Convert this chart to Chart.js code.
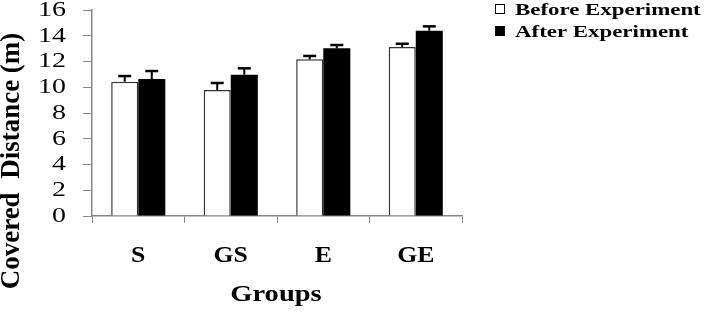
<!DOCTYPE html>
<html><head><meta charset="utf-8">
<script src="https://cdn.jsdelivr.net/npm/chart.js@4"></script>
<style>html,body{margin:0;padding:0;background:#fff}</style>
</head><body>
<canvas id="c" width="705" height="316"></canvas>
<script>
const categories = ['S', 'GS', 'E', 'GE'];
const beforeValues = [10.43, 9.79, 12.17, 13.13];
const afterValues = [10.64, 10.98, 13.02, 14.39];
const beforeErrors = [0.44, 0.54, 0.26, 0.25];
const afterErrors = [0.62, 0.49, 0.26, 0.34];
const seriesLabels = ['Before Experiment', 'After Experiment'];
const yTicks = { min: 0, max: 16, step: 2 };
const xTitle = 'Groups';
const yTitle = 'Covered  Distance (m)';

const SERIF = '"Liberation Serif", serif';
const errorSets = [beforeErrors, afterErrors];

function stretchText(ctx, text, x, y, sx, align, baseline) {
  ctx.save();
  ctx.translate(x, y);
  ctx.scale(sx, 1);
  ctx.textAlign = align; ctx.textBaseline = baseline;
  ctx.fillText(text, 0, 0);
  ctx.restore();
}

const extras = {
  id: 'extras',
  afterDatasetsDraw(chart) {
    const ctx = chart.ctx, ys = chart.scales.y;
    ctx.save();
    ctx.strokeStyle = '#000';
    chart.data.datasets.forEach((ds, i) => {
      const meta = chart.getDatasetMeta(i);
      meta.data.forEach((el, j) => {
        const top = ys.getPixelForValue(ds.data[j] + errorSets[i][j]);
        ctx.lineWidth = 2;
        ctx.beginPath(); ctx.moveTo(el.x, el.y); ctx.lineTo(el.x, top); ctx.stroke();
        ctx.lineWidth = 2.5;
        ctx.beginPath(); ctx.moveTo(el.x - 6.5, top); ctx.lineTo(el.x + 6.5, top); ctx.stroke();
      });
    });
    ctx.restore();
  },
  afterDraw(chart) {
    const ctx = chart.ctx, a = chart.chartArea, xs = chart.scales.x, ys = chart.scales.y;
    ctx.save();
    ctx.fillStyle = '#000';
    // y tick labels
    ctx.font = '22px ' + SERIF;
    ys.ticks.forEach((t, i) => {
      stretchText(ctx, String(t.value), 66, ys.getPixelForTick(i), 1.27, 'right', 'middle');
    });
    // x tick labels
    ctx.font = 'bold 23px ' + SERIF;
    chart.data.labels.forEach((lab, i) => {
      stretchText(ctx, lab, xs.getPixelForTick(i), 262, 1.12, 'center', 'alphabetic');
    });
    // x title
    ctx.font = 'bold 23px ' + SERIF;
    stretchText(ctx, xTitle, (a.left + a.right) / 2 - 1, 301, 1.24, 'center', 'alphabetic');
    // legend
    ctx.font = 'bold 16px ' + SERIF;
    const ly = [15, 37];
    chart.data.datasets.forEach((ds, i) => {
      ctx.fillStyle = '#000';
      stretchText(ctx, ds.label, 515, ly[i], 1.43, 'left', 'alphabetic');
      const by = ly[i] - 11;
      if (i === 0) {
        ctx.fillStyle = '#fff'; ctx.fillRect(495, by, 10, 10);
        ctx.strokeStyle = '#000'; ctx.lineWidth = 1; ctx.strokeRect(495.5, by + 0.5, 9, 9);
      } else {
        ctx.fillStyle = '#000'; ctx.fillRect(495, by, 10, 10);
      }
    });
    // y title
    ctx.fillStyle = '#000';
    ctx.font = 'bold 27px ' + SERIF;
    ctx.translate(12, 161);
    ctx.rotate(-Math.PI / 2);
    ctx.textAlign = 'center'; ctx.textBaseline = 'middle';
    ctx.fillText(yTitle, 0, 0);
    ctx.restore();
  }
};

new Chart(document.getElementById('c'), {
  type: 'bar',
  data: {
    labels: categories,
    datasets: [
      { label: seriesLabels[0], data: beforeValues, backgroundColor: '#fff', borderColor: '#333', borderWidth: 1.5 },
      { label: seriesLabels[1], data: afterValues, backgroundColor: '#000', borderWidth: 0 }
    ]
  },
  options: {
    responsive: false, animation: false, events: [],
    layout: { padding: { left: 0, right: 243, top: 10, bottom: 0 } },
    plugins: { legend: { display: false }, tooltip: { enabled: false }, title: { display: false } },
    datasets: { bar: { categoryPercentage: 0.585, barPercentage: 1 } },
    scales: {
      x: {
        grid: { display: true, drawOnChartArea: false, tickLength: 7, color: '#888', offset: true },
        border: { color: '#888', width: 1.5 },
        ticks: { display: false },
        afterFit(s) { s.height = 100; }
      },
      y: {
        min: yTicks.min, max: yTicks.max,
        ticks: { stepSize: yTicks.step, display: false },
        grid: { drawOnChartArea: false, tickLength: 9, color: '#888' },
        border: { color: '#888', width: 1.5 },
        afterFit(s) { s.width = 92; }
      }
    }
  },
  plugins: [extras]
});
</script>
</body></html>
